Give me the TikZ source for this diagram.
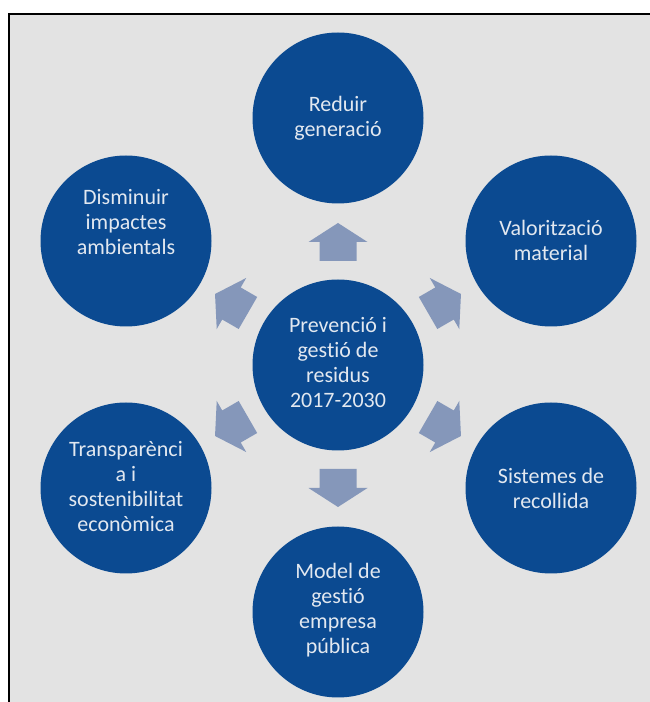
\documentclass[tikz,border=0pt]{standalone}
\usepackage{fontspec}
\setmainfont{Carlito}[Ligatures=NoCommon]
\definecolor{bgc}{HTML}{E3E3E3}
\definecolor{bluec}{HTML}{0B4A91}
\definecolor{arrc}{HTML}{8597BA}
\definecolor{txtc}{HTML}{E2E8F0}
\tikzset{
  bubble/.style={circle, fill=bluec, minimum size=171pt, inner sep=0pt},
  btext/.style={text=txtc, align=center, font=\fontsize{22pt}{25pt}\selectfont},
  blockarrow/.style={fill=arrc}
}
\begin{document}
\begin{tikzpicture}[x=1pt,y=1pt]
\useasboundingbox (0,0) rectangle (650,702);
\fill[white] (0,0) rectangle (650,702);
\fill[bgc] (9,0) rectangle (650,688);
\draw[line width=2pt] (9,0) -- (9,688) -- (650,688);

\node[bubble] (c) at (338,337) {};
\node[btext] (ct) at (338,339) {Prevenció i\\gest\kern0pt ió de\\residus\\2017-2030};

\node[bubble] (top) at (338,584) {};
\node[btext] (topt) at (338,584) {Reduir\\generació};

\node[bubble] (lt) at (126,461) {};
\node[btext] (ltt) at (126,480) {Disminuir\\impactes\\ambientals};

\node[bubble] (rt) at (551,461) {};
\node[btext] (rtt) at (551,462) {Valorització\\material};

\node[bubble] (lb) at (126,214) {};
\node[btext] (lbt) at (126,215) {Transparènci\\a i\\sostenibilitat\\econòmica};

\node[bubble] (rb) at (551,214) {};
\node[btext] (rbt) at (551,214) {Sistemes de\\recollida};

\node[bubble] (bot) at (338,90) {};
\node[btext] (bott) at (338,92) {Model de\\gest\kern0pt ió\\empresa\\pública};

\foreach \a in {90,150,210,270,330,30}{
  \fill[blockarrow, shift={(c.center)}, rotate=\a]
    (104,-18.5) -- (123,-18.5) -- (123,-29.5) -- (142,0) -- (123,29.5) -- (123,18.5) -- (104,18.5) -- cycle;
}
\end{tikzpicture}
\end{document}
